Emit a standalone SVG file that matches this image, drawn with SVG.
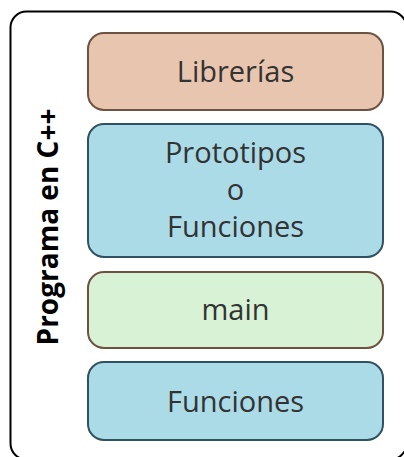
<svg xmlns="http://www.w3.org/2000/svg" width="404" height="457" viewBox="0 0 404 457">
  <style>
    .lbl { font-family: "Open Sans", "Noto Sans", sans-serif; font-size: 29px; fill: #333333; text-anchor: middle; }
    .title { font-family: "Open Sans", "Noto Sans", sans-serif; font-size: 28px; font-weight: bold; fill: #000000; text-anchor: middle; }
    .box { stroke-width: 2; }
  </style>
  <rect width="404" height="457" fill="#ffffff"/>
  <g id="container">
    <rect x="10.5" y="11.5" width="396" height="448" rx="16" ry="16" fill="#ffffff" stroke="#000000" stroke-width="2"/>
    <text class="title" transform="translate(58,227) rotate(-90)">Programa en C++</text>
  </g>
  <g id="librerias">
    <rect class="box" x="88" y="33" width="295" height="77" rx="16" ry="16" fill="#e8c5ae" stroke="#6e5240"/>
    <text class="lbl" x="235.5" y="82">Librerías</text>
  </g>
  <g id="prototipos">
    <rect class="box" x="88" y="124" width="295" height="133" rx="16" ry="16" fill="#acdbe8" stroke="#2e5261"/>
    <text class="lbl" x="235.5" y="163">Prototipos</text>
    <text class="lbl" x="235.5" y="200">o</text>
    <text class="lbl" x="235.5" y="237">Funciones</text>
  </g>
  <g id="main">
    <rect class="box" x="88" y="272" width="295" height="76" rx="16" ry="16" fill="#d8f2d6" stroke="#6e5240"/>
    <text class="lbl" x="235.5" y="320">main</text>
  </g>
  <g id="funciones">
    <rect class="box" x="88" y="362" width="295" height="78" rx="16" ry="16" fill="#acdbe8" stroke="#2e5261"/>
    <text class="lbl" x="235.5" y="412">Funciones</text>
  </g>
  <g id="connectors"></g>
</svg>
